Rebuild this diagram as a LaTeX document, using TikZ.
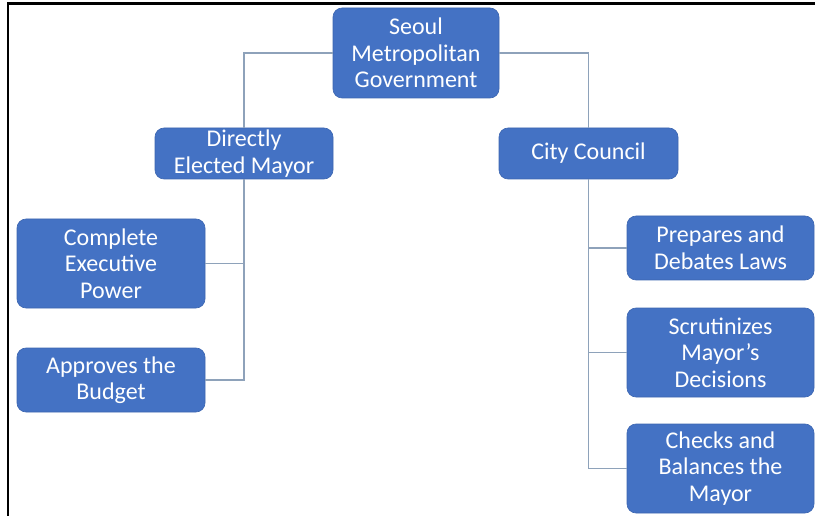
\documentclass[tikz,border=0pt]{standalone}
\usepackage{fontspec}
\setmainfont{Carlito}
\definecolor{boxblue}{HTML}{4472C4}
\definecolor{boxedge}{HTML}{3C66B0}
\definecolor{connc}{HTML}{8EA2BA}
\begin{document}
\begin{tikzpicture}[x=1pt,y=-1pt,
  box/.style={draw=boxedge, fill=boxblue, rounded corners=9pt, text=white,
    align=center, font=\fontsize{24}{26.5}\selectfont, inner sep=0pt, line width=0.6pt},
  conn/.style={draw=connc, line width=1.2pt}]
\useasboundingbox (0,0) rectangle (815,516);
\draw[line width=2.5pt] (815,3.3) -- (8,3.3) -- (8,516);

\node[box, minimum width=166pt, minimum height=90pt] (seoul) at (416,53) {Seoul\\Metropolitan\\Government};
\node[box, minimum width=178pt, minimum height=51pt] (mayor) at (244,153.5) {Directly\\Elected Mayor};
\node[box, minimum width=179pt, minimum height=51pt] (council) at (588.5,153.5) {City Council};
\node[box, minimum width=188pt, minimum height=89pt] (exec) at (111,263.5) {Complete\\Executive\\Power};
\node[box, minimum width=188pt, minimum height=64pt] (budget) at (111,380) {Approves the\\Budget};
\node[box, minimum width=187pt, minimum height=64pt] (laws) at (720.5,248) {Prepares and\\Debates Laws};
\node[box, minimum width=187pt, minimum height=89pt] (scrut) at (720.5,352.5) {Scrutinizes\\Mayor’s\\Decisions};
\node[box, minimum width=187pt, minimum height=89pt] (checks) at (720.5,468.5) {Checks and\\Balances the\\Mayor};

\draw[conn] (seoul.west) -| (mayor.north);
\draw[conn] (seoul.east) -| (council.north);
\draw[conn] (mayor.south) |- (budget.east);
\draw[conn] (exec.east) -- (mayor.south |- exec.east);
\draw[conn] (council.south) |- (checks.west);
\draw[conn] (laws.west) -- (council.south |- laws.west);
\draw[conn] (scrut.west) -- (council.south |- scrut.west);
\end{tikzpicture}
\end{document}
